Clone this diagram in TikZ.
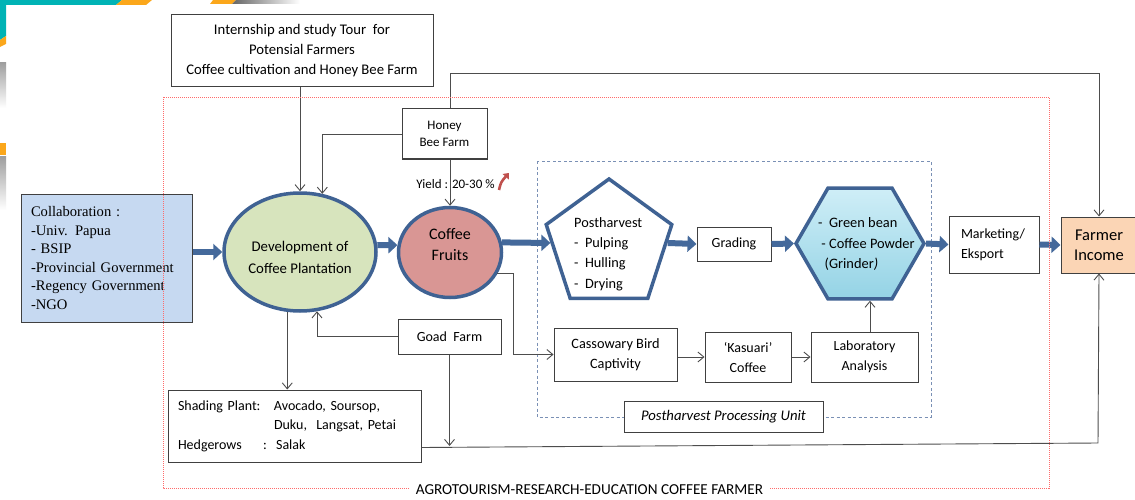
\documentclass[tikz,border=0pt]{standalone}
\usepackage{fontspec}
\setmainfont{Carlito}
\newfontfamily\timesf{Liberation Serif}
\usetikzlibrary{arrows.meta,shapes.geometric,calc}
\definecolor{tealdeco}{HTML}{00B3B5}
\definecolor{orangedeco}{HTML}{FBA71B}
\definecolor{bblue}{HTML}{3F6293}
\definecolor{arrowblue}{HTML}{44699B}
\definecolor{devfill}{HTML}{D7E4BD}
\definecolor{fruitfill}{HTML}{D99694}
\definecolor{collabfill}{HTML}{C6D9F1}
\definecolor{farmfill}{HTML}{FBD5B5}
\definecolor{boxgrey}{HTML}{404040}
\definecolor{linegrey}{HTML}{4D4D4D}
\definecolor{dashblue}{HTML}{7A90B5}
\definecolor{reddot}{HTML}{FF6B6B}
\definecolor{iconred}{HTML}{C0504D}
\definecolor{hexlight}{HTML}{CFEEF7}
\definecolor{hexdark}{HTML}{94D3E5}
\newcommand{\fsz}[2]{\fontsize{#1}{#2}\selectfont}
\begin{document}
\begin{tikzpicture}[x=1pt,y=-1pt,
  every node/.style={font=\fsz{14}{20}},
  box/.style={draw=boxgrey, line width=1pt, fill=white, inner sep=0pt, align=center},
  conn/.style={draw=linegrey, line width=0.9pt, -{Straight Barb[length=6pt,width=10pt]}},
  big/.style={draw=arrowblue, line width=6pt, -{Triangle[length=9pt,width=16pt]}},
  oval/.style={ellipse, draw=bblue, line width=3.5pt, inner sep=0pt},
  poly/.style={regular polygon, draw=bblue, line width=3.5pt, inner sep=0pt},
  plain/.style={inner sep=0pt}]
\useasboundingbox (0,0) rectangle (1135,500);
\fill[white] (0,0) rectangle (1135,500);
% slide template decoration
\fill[tealdeco] (0,0) -- (122,0) -- (116,5) -- (6,5) -- (6,36) -- (0,40) -- cycle;
\fill[orangedeco] (122,0) -- (152,0) -- (146,5) -- (116,5) -- cycle;
\fill[orangedeco] (0,40) -- (6,36) -- (6,44) -- (0,47) -- cycle;
\shade[top color=gray!75, bottom color=white] (0,63) rectangle (6,108);
\fill[orangedeco] (0,143) rectangle (6,155);
\shade[top color=gray!75, bottom color=white] (0,157) rectangle (6,210);
\fill[orangedeco] (213,0) -- (236,0) -- (232,4) -- (210,4) -- cycle;
\shade[left color=gray!80!black, right color=white] (236,0) -- (300,0) -- (300,4) -- (232,4) -- cycle;

% postharvest unit frame
\draw[dashblue, line width=0.9pt, dash pattern=on 3pt off 2.5pt] (537,161) rectangle (931,417);

% nodes
\node[box, minimum width=262, minimum height=72, font=\fsz{14.7}{20}] (intern) at (302,51)
  {Internship and study Tour\ \ for\\Potensial Farmers\\Coffee cultivation and Honey Bee Farm};
\node[box, minimum width=85, minimum height=50, font=\fsz{13}{17}] (honey) at (444.5,134) {Honey\\Bee Farm};
\node[box, fill=collabfill, minimum width=171, minimum height=128, text width=151pt, inner xsep=10pt,
  align=left, font=\timesf\fsz{14.6}{18.6}] (collab) at (106.5,258)
  {Collaboration :\\-Univ. Papua\\- BSIP\\-Provincial Government\\-Regency Government\\-NGO};
\node[oval, fill=devfill, minimum width=152, minimum height=118] (dev) at (300,252) {};
\node[plain, align=center, font=\fsz{14.8}{22}] (devtext) at (300,257) {Development of\\Coffee Plantation};
\node[oval, fill=fruitfill, minimum width=103, minimum height=90] (fruits) at (450,252.5) {};
\node[plain, align=center, font=\fsz{16}{21}] (fruitstext) at (450,245) {Coffee\\Fruits};
\node[font=\fsz{13}{15}] (yield) at (455.5,184) {Yield : 20-30 \%};
\node[poly, regular polygon sides=5, fill=white, minimum size=132] (pent) at (609,245) {};
\node[plain, align=left, anchor=west, font=\fsz{14.3}{20.3}] (penttext) at (574,254)
  {Postharvest\\-\ \ Pulping\\-\ \ Hulling\\-\ \ Drying};
\node[box, minimum width=74, minimum height=34] (grading) at (734,244) {Grading};
\node[poly, regular polygon sides=6, top color=hexlight, bottom color=hexdark, minimum size=128] (hex) at (860,243.5) {};
\node[plain, align=left, anchor=west, font=\fsz{14.4}{20.5}] (hextext) at (818,244)
  {-\ \ Green bean\\\ - Coffee Powder\\\ \ (Grinder\textit{)}};
\node[box, minimum width=90, minimum height=57, text width=66pt, inner xsep=12pt, align=left] (market) at (994,244.5)
  {Marketing/\\Eksport};
\node[box, fill=farmfill, minimum width=76, minimum height=56, font=\fsz{16.5}{20}] (farmer) at (1099,245) {Farmer\\Income};
\node[box, minimum width=123, minimum height=53, font=\fsz{14.3}{20}] (cass) at (615.5,354.5) {Cassowary Bird\\Captivity};
\node[box, minimum width=86, minimum height=50] (kas) at (748,357) {‘Kasuari’\\Coffee};
\node[box, minimum width=107, minimum height=50] (lab) at (864.5,357) {Laboratory\\Analysis};
\node[box, minimum width=103, minimum height=35] (goad) at (449.5,336.5) {Goad\ \ Farm};
\node[box, minimum width=253, minimum height=72, text width=233pt, inner xsep=10pt, align=left,
  font=\fsz{14}{19.5}] (shading) at (294.5,426)
  {\makebox[96pt][l]{Shading Plant:}Avocado, Soursop,\\\hspace*{96pt}Duku,\ \ Langsat, Petai\\\makebox[85pt][l]{Hedgerows}:\ \ Salak};
\node[box, minimum width=199, minimum height=31, font=\fsz{14.7}{20}\itshape] (phu) at (723.5,416.5) {Postharvest Processing Unit};

\coordinate (tl) at (0,73);
\coordinate (fc) at (513,0);
\coordinate (gb) at (0,446);
\coordinate (bl) at (1098,443);

% thin connectors
\draw[conn] (intern.south -| dev.north) -- (dev.north);
\draw[conn] (honey.west) -| (dev.69);
\draw[conn] (fruits.north |- honey.south) -- (fruits.north);
\draw[conn] (fruits.north |- honey.north) -- (fruits.north |- tl) -| (farmer.north);
\draw[conn] (fruits.-24) -| (fc |- cass.west) -- (cass.west);
\draw[conn] (cass.east |- kas.west) -- (kas.west);
\draw[conn] (kas.east) -- (lab.west);
\draw[conn] ([xshift=5.5pt]lab.north) -- ([xshift=5.5pt]lab.north |- hex.south);
\draw[conn] (goad.west) -| (dev.-74);
\draw[conn] (dev.-102) -- (dev.-102 |- shading.north);
\draw[conn] (goad.south) -- (goad.south |- gb);
\draw[conn] ($(shading.south east)+(0,-15)$) -- (bl) -- (farmer.south);

% thick flow arrows
\draw[big] (collab.east |- dev.west) -- (dev.west);
\draw[big] (dev.5) -- (fruits.172);
\draw[big] (fruits.11) -- ($(pent.corner 2)!0.25!(pent.corner 3)$);
\draw[big] ($(pent.corner 5)!0.25!(pent.corner 4)$) -- (grading.west);
\draw[big] (grading.east) -- (hex.west);
\draw[big] (hex.east) -- (market.west);
\draw[big] (market.east) -- (farmer.west);

% small red mark
\draw[iconred, line width=2.6pt, -{Triangle[length=5pt,width=8pt]}] (499,190) .. controls (501,182) .. (509,173);

% outer dotted frame and its label
\draw[reddot, line width=0.8pt, dash pattern=on 1pt off 1pt] (163,97) rectangle (1049,488);
\node[fill=white, inner xsep=7pt, inner ysep=1pt, font=\fsz{15.2}{18}] (agro) at (589.5,490) {AGROTOURISM-RESEARCH-EDUCATION COFFEE FARMER};
\end{tikzpicture}
\end{document}
